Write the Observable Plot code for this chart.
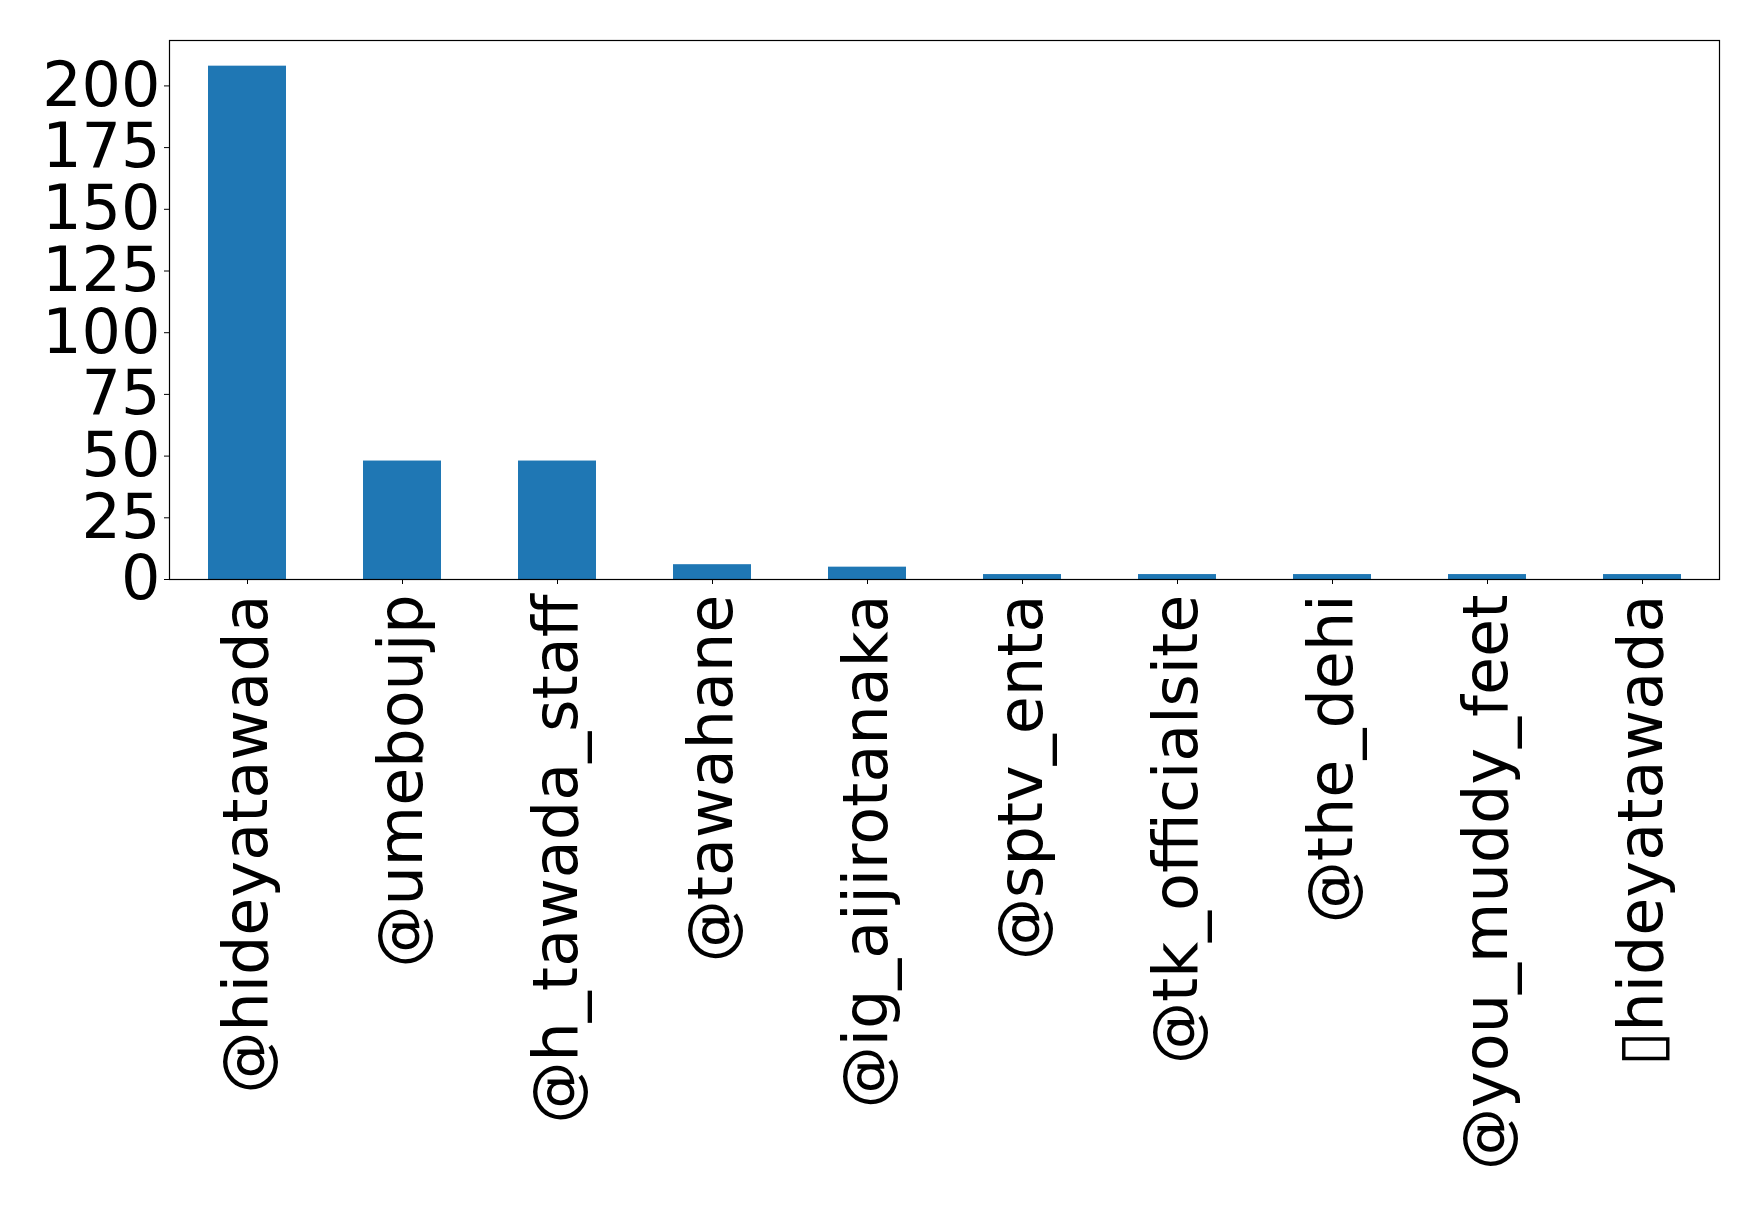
<!DOCTYPE html>
<html>
<head>
<meta charset="utf-8">
<script src="https://cdn.jsdelivr.net/npm/d3@7"></script>
<script src="https://cdn.jsdelivr.net/npm/@observablehq/plot@0.6"></script>
<style>
  html, body { margin: 0; padding: 0; background: #fff; }
  #chart { width: 1758px; height: 1208px; }
</style>
</head>
<body>
<div id="chart"></div>
<script>
// Accounts mentioned, in descending order of mention count
const handles = [
  "@hideyatawada",
  "@umeboujp",
  "@h_tawada_staff",
  "@tawahane",
  "@ig_aijirotanaka",
  "@sptv_enta",
  "@tk_officialsite",
  "@the_dehi",
  "@you_muddy_feet",
  "▯hideyatawada"
];
const counts = [208, 48, 48, 6, 5, 2, 2, 2, 2, 2];
const yTicks = [0, 25, 50, 75, 100, 125, 150, 175, 200];

const rows = handles.map((h, i) => ({handle: h, count: counts[i]}));

const chart = Plot.plot({
  width: 1758,
  height: 1208,
  marginLeft: 169,
  marginRight: 39,
  marginTop: 40,
  marginBottom: 629,
  style: {fontFamily: "'DejaVu Sans', sans-serif", color: "#000", background: "#fff"},
  x: {domain: handles, paddingInner: 0.5, paddingOuter: 0.25, align: 0.5},
  y: {domain: [0, d3.max(counts) * 1.05]},
  marks: [
    Plot.barY(rows, {x: "handle", y: "count", fill: "#1f77b4"}),
    Plot.frame({stroke: "#000", strokeWidth: 1.2}),
    Plot.axisY({
      ticks: yTicks,
      tickFormat: d => String(d),
      tickSize: 5,
      tickPadding: 4,
      fontSize: 62,
      label: null
    }),
    Plot.axisX({
      tickRotate: -90,
      tickSize: 5,
      tickPadding: 10,
      fontSize: 62,
      label: null
    })
  ]
});
document.getElementById("chart").appendChild(chart);
</script>
</body>
</html>
